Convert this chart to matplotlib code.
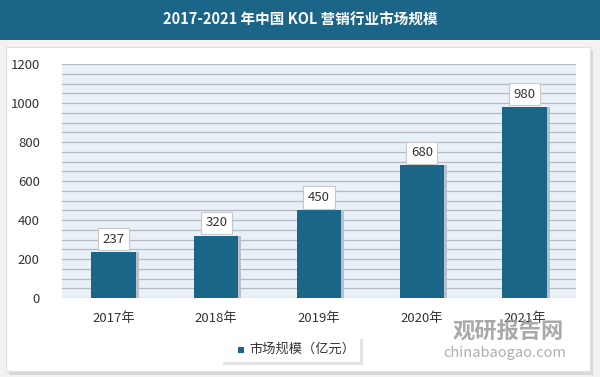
import matplotlib.pyplot as plt
from matplotlib.patches import Rectangle

plt.rcParams['font.family'] = ['Noto Sans CJK SC', 'DejaVu Sans']

years = ['2017年', '2018年', '2019年', '2020年', '2021年']
market_size = [237, 320, 450, 680, 980]
yticks = [0, 200, 400, 600, 800, 1000, 1200]
title = '2017-2021 年中国 KOL 营销行业市场规模'
legend_label = '市场规模（亿元）'

bar_color = '#1b6588'
W, H = 600, 377

fig = plt.figure(figsize=(6, 3.77), dpi=100)
fig.patch.set_facecolor('#f2f2f2')

# title band
fig.patches.append(Rectangle((0, 1 - 40 / H), 1, 40 / H, transform=fig.transFigure,
                             facecolor='#1b6588', edgecolor='none', zorder=0))
fig.text(0.5, 1 - 20 / H, title, color='white', fontsize=10.5, fontweight='bold',
         ha='center', va='center')

# white panel with soft shadow
fig.patches.append(Rectangle((9 / W, 1 - 375 / H), 584 / W, 325 / H, transform=fig.transFigure,
                             facecolor='#d8d8d8', edgecolor='none', zorder=-2))
fig.patches.append(Rectangle((6 / W, 1 - 371 / H), 584 / W, 324 / H, transform=fig.transFigure,
                             facecolor='white', edgecolor='#e0e0e0', lw=0.8, zorder=-1))

ax = fig.add_axes([62 / W, 1 - 298 / H, 514 / W, 234 / H])
ax.set_zorder(2)
ax.set_facecolor('#eaf0f7')
x = range(len(years))

# shadow behind bars
ax.bar([i + 0.03 for i in x], market_size, width=0.43, color='#b9c2cc', zorder=2)
bars = ax.bar(x, market_size, width=0.43, color=bar_color, zorder=3)

for i, v in enumerate(market_size):
    ax.text(i, v + 32, str(v), ha='center', va='bottom', fontsize=9.5, color='#333333',
            zorder=5, bbox=dict(boxstyle='square,pad=0.35', facecolor='white',
                                edgecolor='#c8c8c8', lw=0.8))

ax.set_ylim(0, 1200)
ax.set_xlim(-0.5, 4.5)
ax.set_yticks(yticks)
ax.set_yticks(range(0, 1201, 50), minor=True)
ax.grid(axis='y', which='both', color='#b4bac2', lw=0.9, zorder=1)
ax.set_axisbelow(True)
ax.tick_params(axis='y', which='both', length=0, pad=16, labelsize=9.5, labelcolor='#333333')
ax.set_xticks(list(x))
ax.set_xticklabels(years, fontsize=9.5, color='#333333')
ax.tick_params(axis='x', length=0, pad=10)
for s in ax.spines.values():
    s.set_visible(False)

# legend box
fig.patches.append(Rectangle((223 / W, 1 - 365 / H), 140 / W, 26 / H, transform=fig.transFigure,
                             facecolor='#e4e4e4', edgecolor='none', zorder=1))
fig.patches.append(Rectangle((220 / W, 1 - 362 / H), 140 / W, 26 / H, transform=fig.transFigure,
                             facecolor='white', edgecolor='none', zorder=1))
fig.patches.append(Rectangle((238 / W, 1 - 353 / H), 6 / W, 6 / H, transform=fig.transFigure,
                             facecolor=bar_color, edgecolor='none', zorder=2))
fig.text(249 / W, 1 - 349 / H, legend_label, fontsize=9.5, color='#333333', va='center', ha='left')

# watermark
wm = fig.text(508 / W, 1 - 332 / H, '观研报告网', fontsize=16, fontweight='bold', color='#9a9a9a',
              alpha=0.85, ha='center', va='center')
wm.set_zorder(5)
wm2 = fig.text(505 / W, 1 - 353 / H, 'chinabaogao.com', fontsize=10.5, color='#a0a0a0',
               alpha=0.85, ha='center', va='center')
wm2.set_zorder(5)

fig.savefig('out.png', dpi=100)
